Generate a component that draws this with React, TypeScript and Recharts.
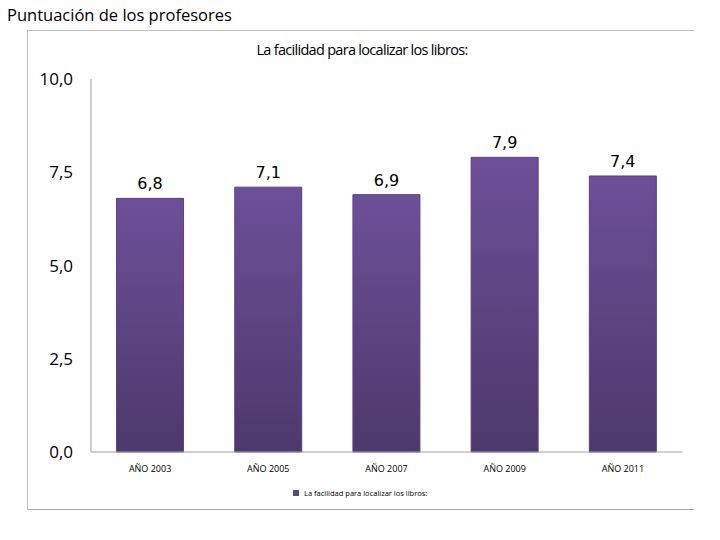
import React from 'react';
import { BarChart, Bar, XAxis, YAxis, LabelList } from 'recharts';

const years = ['AÑO 2003', 'AÑO 2005', 'AÑO 2007', 'AÑO 2009', 'AÑO 2011'];
const scores = [6.8, 7.1, 6.9, 7.9, 7.4];
const yTicks = [0, 2.5, 5, 7.5, 10];

const seriesName = 'La facilidad para localizar los libros:';

const data = years.map((year, i) => ({ year, score: scores[i] }));

const comma = (v: number) => v.toFixed(1).replace('.', ',');

export default function App() {
  return (
    <div
      style={{
        position: 'fixed',
        left: 0,
        top: 0,
        width: 720,
        height: 540,
        background: '#fff',
        fontFamily: '"Open Sans", sans-serif',
      }}
    >
      <div
        style={{
          position: 'absolute',
          left: 7,
          top: 3,
          fontSize: 16.5,
          color: '#000',
          whiteSpace: 'nowrap',
        }}
      >
        Puntuación de los profesores
      </div>
      <div
        style={{
          position: 'absolute',
          left: 27,
          top: 30,
          width: 666,
          height: 478,
          borderTop: '1px solid #c0c0c0',
          borderLeft: '1px solid #c0c0c0',
          borderBottom: '1px solid #a8a8a8',
        }}
      />
      <div
        style={{
          position: 'absolute',
          left: 0,
          width: 724,
          top: 40,
          textAlign: 'center',
          fontSize: 14.5,
          letterSpacing: -0.7,
          color: '#000',
        }}
      >
        {seriesName}
      </div>
      <div style={{ position: 'absolute', left: 0, top: 0 }}>
        <BarChart
          width={720}
          height={540}
          data={data}
          margin={{ top: 79, right: 38, bottom: 58, left: 31 }}
          barCategoryGap="21.6%"
        >
          <defs>
            <linearGradient id="barFill" x1="0" y1="0" x2="0" y2="1">
              <stop offset="0%" stopColor="#6d4f98" />
              <stop offset="100%" stopColor="#4d396b" />
            </linearGradient>
          </defs>
          <XAxis
            dataKey="year"
            axisLine={{ stroke: '#a0a0a0' }}
            tickLine={false}
            tickSize={0}
            tickMargin={14}
            tick={{ fontSize: 9, fill: '#000', fontFamily: '"Open Sans", sans-serif' }}
            height={30}
          />
          <YAxis
            domain={[0, 10]}
            ticks={yTicks}
            tickFormatter={comma}
            axisLine={{ stroke: '#a0a0a0' }}
            tickLine={false}
            tickSize={0}
            tickMargin={18}
            width={60}
            tick={{ fontSize: 17, fill: '#000', fontFamily: '"Open Sans", sans-serif' }}
          />
          <Bar dataKey="score" fill="url(#barFill)" stroke="#5a4380" strokeWidth={1} isAnimationActive={false}>
            <LabelList
              dataKey="score"
              position="top"
              offset={9}
              formatter={(v: any) => comma(Number(v))}
              style={{ fontSize: 16, fill: '#000', fontFamily: '"DejaVu Sans", sans-serif' }}
            />
          </Bar>
        </BarChart>
      </div>
      <div
        style={{
          position: 'absolute',
          left: 293,
          top: 488,
          display: 'flex',
          alignItems: 'center',
          fontSize: 7.5,
          color: '#000',
          whiteSpace: 'nowrap',
        }}
      >
        <span
          style={{
            display: 'inline-block',
            width: 6,
            height: 6,
            background: '#5e4585',
            marginRight: 5,
          }}
        />
        {seriesName}
      </div>
    </div>
  );
}
